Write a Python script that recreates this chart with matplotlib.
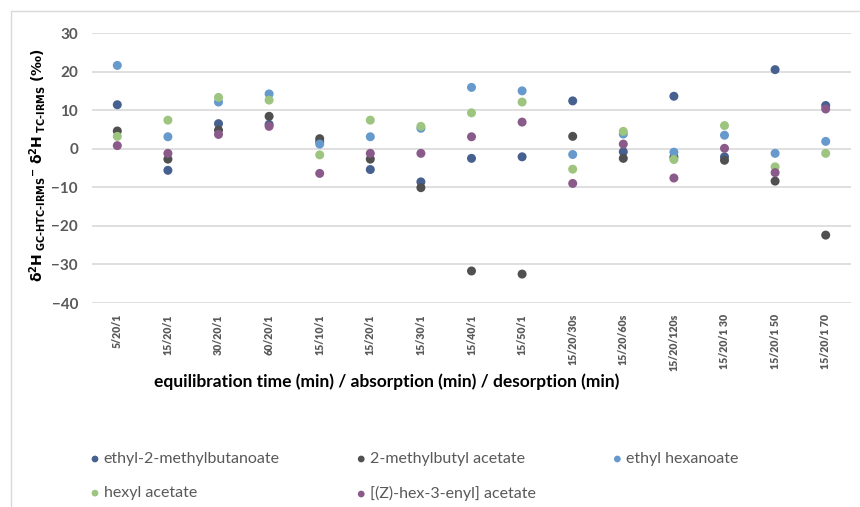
import numpy as np
from matplotlib import pyplot as plt
from matplotlib.patches import Rectangle

plt.rcParams['font.family'] = ['Lato', 'DejaVu Sans']
plt.rcParams['mathtext.fontset'] = 'dejavusans'

conditions = ['5/20/1', '15/20/1', '30/20/1', '60/20/1', '15/10/1', '15/20/1',
              '15/30/1', '15/40/1', '15/50/1', '15/20/30s', '15/20/60s',
              '15/20/120s', '15/20/1 30', '15/20/1 50', '15/20/1 70']

ethyl_2_methylbutanoate = [11.4, -5.6, 6.5, 6.3, 1.8, -5.4, -8.6, -2.5, -2.1, 12.4, -0.8, 13.6, -2.1, 20.5, 11.2]
methylbutyl_acetate = [4.6, -2.7, 4.8, 8.4, 2.6, -2.7, -10.1, -31.7, -32.5, 3.2, -2.5, -2.2, -3.0, -8.4, -22.4]
ethyl_hexanoate = [21.6, 3.1, 12.1, 14.2, 1.2, 3.1, 5.3, 15.9, 15.0, -1.5, 3.8, -0.9, 3.5, -1.2, 1.9]
hexyl_acetate = [3.2, 7.4, 13.3, 12.6, -1.6, 7.4, 5.8, 9.3, 12.1, -5.3, 4.5, -2.8, 6.0, -4.7, -1.2]
hexenyl_acetate = [0.8, -1.2, 3.7, 5.8, -6.4, -1.2, -1.2, 3.1, 6.9, -9.0, 1.2, -7.6, 0.1, -6.2, 10.3]

series = [
    ('ethyl-2-methylbutanoate', ethyl_2_methylbutanoate, '#46618f'),
    ('2-methylbutyl acetate', methylbutyl_acetate, '#505050'),
    ('ethyl hexanoate', ethyl_hexanoate, '#6699cc'),
    ('hexyl acetate', hexyl_acetate, '#9dc57f'),
    ('[(Z)-hex-3-enyl] acetate', hexenyl_acetate, '#8a5b8a'),
]

fig = plt.figure(figsize=(8.6, 5.07), dpi=100)
ax = fig.add_axes([92 / 860, 1 - 303 / 507, 759 / 860, 270 / 507])

x = np.arange(len(conditions))
handles = []
for name, vals, col in series:
    h = ax.scatter(x, vals, s=42, color=col, label=name, zorder=3, edgecolors='none')
    handles.append(h)

ax.set_xlim(-0.5, len(conditions) - 0.5)
ax.set_ylim(-40, 30)
ax.set_yticks(np.arange(-40, 31, 10))
ax.set_xticks(x)
ax.set_xticklabels(conditions, rotation=90, fontsize=7.6, fontweight='heavy', color='#595959')
for lab in ax.get_yticklabels():
    lab.set_fontsize(11)
    lab.set_fontweight('bold')
    lab.set_color('#595959')
ax.tick_params(axis='y', length=0, pad=10)
ax.tick_params(axis='x', length=0, pad=8)
ax.grid(axis='y', color='#d9d9d9', lw=1.2)
ax.set_axisbelow(True)
for sp in ax.spines.values():
    sp.set_visible(False)

fig.text(387 / 860, 1 - 382 / 507, 'equilibration time (min) / absorption (min) / desorption (min)',
         ha='center', va='center', fontsize=12.5, fontweight='bold')
fig.text(38 / 860, 1 - 165 / 507,
         r'$\mathbf{\delta^{2}H_{\ GC‐HTC‐IRMS}{}^{-}\ \delta^{2}H_{\ TC‐IRMS}\ (‰)}$',
         rotation=90, ha='center', va='center', fontsize=10)

# chart area frame
fig.patches.append(Rectangle((11 / 860, -0.1), 1.1, 1 - 11 / 507 + 0.1, transform=fig.transFigure,
                             fill=False, edgecolor='#d9d9d9', lw=1))

order = [0, 3, 1, 4, 2]
fig.legend([handles[i] for i in order], [series[i][0] for i in order],
           ncol=3, loc='upper left', bbox_to_anchor=(87 / 860, 1 - 452 / 507),
           frameon=False, fontsize=11.5, handletextpad=0.05, handlelength=1.0, markerscale=0.75,
           columnspacing=4.6, labelspacing=1.25, labelcolor='#595959', borderaxespad=0,
           borderpad=0)

fig.savefig('out.png', dpi=100)
